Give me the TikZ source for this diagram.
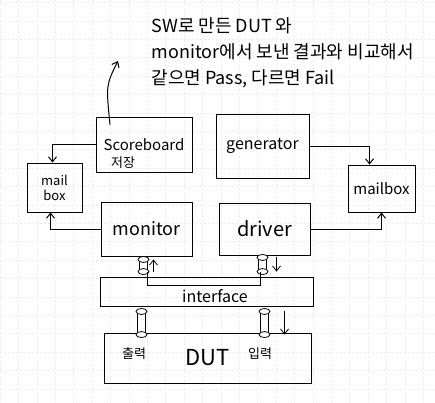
\documentclass[tikz,border=0pt]{standalone}
\usepackage{fontspec}
\setmainfont{Noto Sans CJK KR}
\usetikzlibrary{arrows.meta}

\begin{document}
\begin{tikzpicture}[
		x=1pt, y=-1pt,
		% Define styles for nodes
		box/.style={draw, line width=0.9pt, inner sep=0pt, font=\fontsize{15}{17}\selectfont},
		small/.style={font=\fontsize{13}{14}\selectfont, inner sep=0pt},
		link/.style={draw, line width=1pt, -{Straight Barb[length=5pt,width=8pt]}},
		pipe/.style={draw, line width=0.8pt, double, double distance=7pt},
		pipecap/.style={draw, line width=0.8pt, fill=white},
		wire/.style={draw, line width=0.8pt}
	]
	\useasboundingbox (0,0) rectangle (435,402);

	% Paper grid
	\foreach \g in {0,18.4,...,435}
		\draw[gray!15, dash pattern=on 2pt off 2pt] (\g,0) -- (\g,402);
	\foreach \g in {2.4,20.8,...,402}
		\draw[gray!15, dash pattern=on 2pt off 2pt] (0,\g) -- (435,\g);

	% Note
	\node[anchor=west, align=left, font=\fontsize{18}{26}\selectfont] (note) at (148,53)
		{SW로 만든 DUT 와\\monitor에서 보낸 결과와 비교해서\\같으면 Pass, 다르면 Fail};

	% Top row
	\node[box, minimum width=96pt, minimum height=55pt] (sb) at (144,144.5) {Scoreboard};
	\node[small] (sbNote) at (123,163) {저장};
	\node[box, minimum width=93pt, minimum height=64pt,
		font=\fontsize{16}{18}\selectfont] (gen) at (262.5,146) {generator};

	% Mailboxes
	\node[box, minimum width=55pt, minimum height=49pt, align=center,
		font=\fontsize{13}{15}\selectfont] (mbL) at (54.5,187.5) {mail\\box};
	\node[box, minimum width=67pt, minimum height=47pt] (mbR) at (381.5,188.5) {mailbox};

	% Middle row
	\node[box, minimum width=91pt, minimum height=54pt,
		font=\fontsize{18}{20}\selectfont] (mon) at (146.5,229) {monitor};
	\node[box, minimum width=91pt, minimum height=52pt,
		font=\fontsize{20}{22}\selectfont] (drv) at (264.5,229) {driver};

	% Bottom blocks
	\node[box, minimum width=213pt, minimum height=29pt] (itf) at (206.5,291.5) {};
	\node[box, minimum width=207pt, minimum height=50pt,
		font=\fontsize{22}{24}\selectfont] (dut) at (207.5,358) {DUT};

	% Arrows to the mailboxes
	\draw[link] (sb.west) -| ([xshift=-2pt]mbL.north);
	\draw[link] (mon.west) -| ([xshift=-4pt]mbL.south);
	\draw[link] (gen.east) -| ([xshift=-12pt]mbR.north);
	\draw[link] (drv.east) -| (mbR.south);
	\draw[link] ([xshift=-34pt,yshift=-8pt]sb.north) .. controls (106,85) .. ([xshift=-30pt,yshift=-8pt]note.west);

	% Pipe ends
	\path ([xshift=-3pt]mon.south) ++(0,3) coordinate (mA);
	\path (mA |- itf.north) ++(0,-5) coordinate (mB);
	\path ([xshift=-2pt]mA |- itf.south) ++(0,5) coordinate (dA);
	\path ([xshift=-2pt]mA |- dut.north) ++(0,2) coordinate (dB);
	\path ([xshift=-2pt]drv.south) ++(0,2) coordinate (rA);
	\path (rA |- itf.north) ++(0,-5) coordinate (rB);
	\path ([xshift=2pt]rA |- itf.south) ++(0,5) coordinate (iA);
	\path ([xshift=2pt]rA |- dut.north) ++(0,2) coordinate (iB);

	% Pipes
	\foreach \a/\b in {mA/mB, dA/dB, rA/rB, iA/iB} {
		\draw[pipe] (\a) -- (\b);
		\draw[pipecap] (\a) ellipse (5.5pt and 3pt);
		\draw[pipecap] (\b) ellipse (5.5pt and 3pt);
	}

	% Wire inside the interface
	\draw[wire] ([xshift=4pt]mB) -- ++(0,14) -| ([xshift=-2pt]rB);
	\node[font=\fontsize{16}{18}\selectfont, inner sep=0pt] (itfText) at (215,296) {interface};

	% Direction marks
	\draw[link, line width=0.8pt] ([xshift=10pt]mB) -- ([xshift=10pt]mA);
	\draw[link, line width=0.8pt] ([xshift=14pt]rA) -- ([xshift=14pt]rB);
	\draw[link, line width=0.8pt] ([xshift=20pt]iA) -- ([xshift=20pt]iB);

	% Port labels
	\node[small] (outLbl) at (134,354) {출력};
	\node[small] (inLbl) at (260,354) {입력};
\end{tikzpicture}
\end{document}
